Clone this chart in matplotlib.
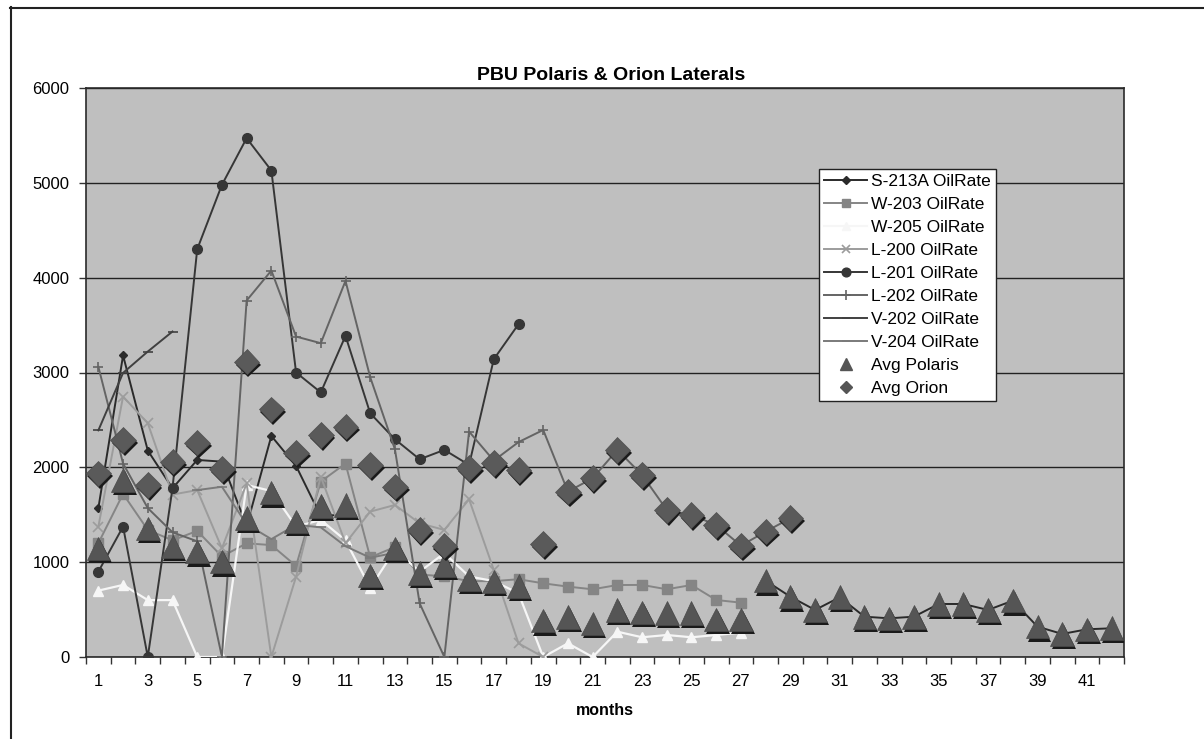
import matplotlib
matplotlib.use("Agg")
import matplotlib.pyplot as plt
import matplotlib.patheffects as pe
from matplotlib.lines import Line2D
import numpy as np

plt.rcParams['font.family'] = ['Liberation Sans', 'DejaVu Sans']

nan = float('nan')
months = list(range(1, 43))

# ---- data ----
s213a = [1570, 3180, 2177, 1779, 2078, 2060, 1380, 2331, 2015, 1484, 1506] + [nan] * 16 + \
        [805, 636, 496, 630, 425, 408, 425, 559, 559, 496, 594, 320, 243, 292, 303]
w203 = [1200, 1720, 1340, 1230, 1330, 1060, 1199, 1180, 960, 1850, 2040, 1050, 1160, 870,
        850, 800, 800, 820, 777, 742, 714, 759, 760, 714, 759, 601, 573] + [nan] * 15
w205 = [700, 760, 600, 600, 0, 0, 1814, 1750, 1375, 1445, 1230, 730, 1130, 900, 1094, 850,
        800, 672, 0, 144, 0, 267, 208, 232, 208, 232, 257] + [nan] * 15
l200 = [1375, 2746, 2465, 1713, 1760, 1146, 1830, 0, 847, 1902, 1200, 1533, 1603, 1410,
        1340, 1663, 918, 144, 0] + [nan] * 23
l201 = [900, 1375, 0, 1780, 4300, 4979, 5471, 5130, 3000, 2790, 3386, 2570, 2296, 2085,
        2184, 2025, 3140, 3509] + [nan] * 24
l202 = [3060, 2040, 1570, 1315, 1220, 0, 3759, 4075, 3379, 3309, 3966, 2950, 2190, 566, 0,
        2377, 2071, 2266, 2394, 1744, 1885, 2184, 1920, 1551, 1498, 1392, 1174, 1322, 1463] + [nan] * 13
v202 = [2390, 2996, 3221, 3432] + [nan] * 38
v204 = [nan] * 4 + [1760, 1795, 1400, 1243, 1394, 1367, 1168, 1047, 1099] + [nan] * 29

avg_polaris = [1146, 1867, 1357, 1164, 1111, 1005, 1463, 1733, 1428, 1593, 1600, 860, 1146,
               883, 970, 819, 795, 749, 383, 425, 355, 496, 470, 461, 461, 397, 397, 805, 636,
               496, 630, 425, 408, 425, 559, 559, 496, 594, 320, 243, 292, 303]
avg_orion = [1937, 2289, 1814, 2060, 2261, 1980, 3115, 2612, 2155, 2342, 2430, 2025, 1797,
             1340, 1174, 1995, 2043, 1973, 1192, 1744, 1885, 2184, 1920, 1551, 1498, 1392,
             1174, 1322, 1463] + [nan] * 13

labels = ['S-213A OilRate', 'W-203 OilRate', 'W-205 OilRate', 'L-200 OilRate', 'L-201 OilRate',
          'L-202 OilRate', 'V-202 OilRate', 'V-204 OilRate', 'Avg Polaris', 'Avg Orion']
title = 'PBU Polaris & Orion Laterals'
xlabel = 'months'

# ---- figure ----
fig = plt.figure(figsize=(12.04, 7.39), dpi=100)
fig.patch.set_facecolor('white')
ax = fig.add_axes([86 / 1204, 1 - 657 / 739, (1124 - 86) / 1204, (657 - 88) / 739])
ax.set_facecolor('#bfbfbf')

styles = [
    dict(color='#2a2a2a', marker='D', ms=4.5, lw=1.4),
    dict(color='#858585', marker='s', ms=6.5, lw=1.4),
    dict(color='#f6f6f6', marker='^', ms=6.5, lw=1.6),
    dict(color='#9c9c9c', marker='x', ms=6.5, mew=1.2, lw=1.4),
    dict(color='#363636', marker='o', ms=7, lw=1.4),
    dict(color='#646464', marker='+', ms=7.5, mew=1.2, lw=1.4),
    dict(color='#404040', marker='_', ms=7, mew=1.2, lw=1.4),
    dict(color='#7a7a7a', marker='_', ms=7, mew=1.2, lw=1.4),
]
series = [s213a, w203, w205, l200, l201, l202, v202, v204]
handles = []
for vals, st, lab in zip(series, styles, labels[:8]):
    ax.plot(months, vals, color=st['color'], lw=st['lw'], marker=st['marker'],
            ms=st['ms'], mew=st.get('mew', 1), mfc=st['color'], mec=st['color'], zorder=3)
    handles.append(Line2D([], [], color=st['color'], lw=st['lw'], marker=st['marker'],
                          ms=st['ms'] * 0.9, mew=st.get('mew', 1), mfc=st['color'], mec=st['color']))

shadow = [pe.SimplePatchShadow(offset=(1.3, -2.2), shadow_rgbFace='#1a1a1a', alpha=1.0), pe.Normal()]
ax.plot(months, avg_polaris, ls='none', marker='^', ms=17, mfc='#555555', mec='#4a4a4a',
        mew=0.5, zorder=5, path_effects=shadow)
ax.plot(months, avg_orion, ls='none', marker='D', ms=13, mfc='#5a5a5a', mec='#505050',
        mew=0.5, zorder=5, path_effects=shadow)
handles.append(Line2D([], [], ls='none', marker='^', ms=8, mfc='#555555', mec='#555555'))
handles.append(Line2D([], [], ls='none', marker='D', ms=6, mfc='#555555', mec='#555555'))

# axes
ax.set_xlim(0.5, 42.5)
ax.set_ylim(0, 6000)
ax.set_yticks(np.arange(0, 6001, 1000))
ax.yaxis.grid(True, color='#222222', lw=1.0, zorder=1)
ax.set_axisbelow(True)
ax.set_xticks(np.arange(0.5, 43, 1))
ax.set_xticklabels([])
ax.set_xticks(np.arange(1, 43, 2), minor=True)
ax.set_xticklabels([str(m) for m in range(1, 43, 2)], minor=True)
ax.tick_params(axis='x', which='major', length=5, direction='out', color='#333333', width=1)
ax.tick_params(axis='x', which='minor', length=0, pad=12, labelsize=12)
ax.tick_params(axis='y', which='major', length=5, direction='out', color='#333333',
               width=1, pad=7, labelsize=12)
for s in ax.spines.values():
    s.set_color('#2a2a2a')
    s.set_linewidth(1.2)
ax.set_xlabel(xlabel, fontweight='bold', fontsize=11.5, labelpad=10)

fig.text(611 / 1204, 1 - 75 / 739, title, ha='center', va='center',
         fontweight='bold', fontsize=14)

leg = ax.legend(handles, labels, loc='upper left', bbox_to_anchor=(0.706, 0.858),
                fontsize=12.5, frameon=True, fancybox=False, edgecolor='#222222',
                facecolor='white', framealpha=1, handlelength=2.5, handletextpad=0.2,
                labelspacing=0.45, borderpad=0.3, borderaxespad=0)
leg.get_frame().set_linewidth(1.0)
leg.set_zorder(10)

# outer frame lines
fig.add_artist(Line2D([10.5 / 1204, 10.5 / 1204], [1 - 7 / 739, 0], transform=fig.transFigure,
                      color='#222222', lw=1.5))
fig.add_artist(Line2D([10 / 1204, 1], [1 - 7.5 / 739, 1 - 7.5 / 739], transform=fig.transFigure,
                      color='#222222', lw=1.5))

fig.savefig('out.png', dpi=100, facecolor='white')
